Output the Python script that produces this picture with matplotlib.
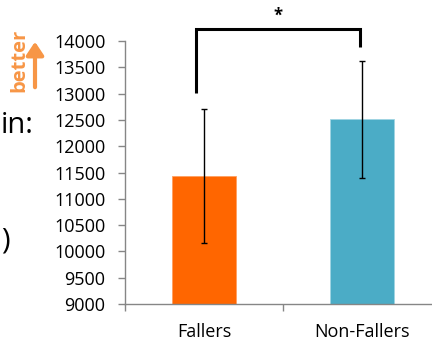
import matplotlib
matplotlib.use("Agg")
import matplotlib.pyplot as plt

categories = ["Fallers", "Non-Fallers"]
means = [11440, 12510]
errors = [1275, 1115]
bar_colors = ["#FF6600", "#4BACC6"]
yticks = [9000, 9500, 10000, 10500, 11000, 11500, 12000, 12500, 13000, 13500, 14000]
sig_label = "*"

plt.rcParams['font.family'] = ['Open Sans', 'DejaVu Sans']

W, H = 432, 341
fig = plt.figure(figsize=(W / 100, H / 100), dpi=100)
ax = fig.add_axes([125 / W, 1 - 304 / H, (441 - 125) / W, (304 - 41) / H])

x = list(range(len(categories)))
ax.bar(x, means, width=0.41, color=bar_colors, edgecolor=["#FFA060", "#A0D4E2"], linewidth=0.6,
       yerr=errors, error_kw=dict(ecolor="black", elinewidth=1, capsize=2.3, capthick=1), zorder=2)

ax.set_xlim(-0.5, 1.5)
ax.set_ylim(min(yticks), max(yticks))
ax.set_yticks(yticks)
ax.set_yticklabels([str(t) for t in yticks], fontsize=13)

gray = "#868686"
for s in ["top", "right"]:
    ax.spines[s].set_visible(False)
for s in ["left", "bottom"]:
    ax.spines[s].set_color(gray)
    ax.spines[s].set_linewidth(1)

ax.tick_params(axis="y", direction="out", length=5, width=1, color=gray, pad=9)
ax.set_xticks([-0.5, 0.5, 1.5])
ax.set_xticklabels([])
ax.set_xticks(x, minor=True)
ax.set_xticklabels(categories, minor=True, fontsize=13)
ax.tick_params(axis="x", which="major", direction="out", length=5, width=1, color=gray)
ax.tick_params(axis="x", which="minor", length=0, pad=14)

# significance bracket
left_bottom = means[0] + errors[0] + 300
right_bottom = means[1] + errors[1] + 270
top = max(yticks) + 230
ax.plot([x[0] - 0.05, x[0] - 0.05, x[1] - 0.01, x[1] - 0.01],
        [left_bottom, top, top, right_bottom], color="black", lw=2.2,
        clip_on=False, solid_joinstyle="miter", solid_capstyle="butt")
ax.text((x[0] + x[1]) / 2 - 0.03, top + 80, sig_label, ha="center", va="bottom",
        fontsize=12, fontweight="bold", clip_on=False)

# "better" arrow and label
orange = "#F79646"
fig.text(19 / W, 1 - 60 / H, "better", rotation=90, color=orange, fontsize=14.5,
         fontweight="bold", ha="center", va="center")
fig.patches.append(matplotlib.patches.FancyArrowPatch(
    (35 / W, 1 - 90 / H), (35 / W, 1 - 39 / H), transform=fig.transFigure,
    arrowstyle="-|>,head_length=6,head_width=4", color=orange, lw=3, mutation_scale=1.3))

# leftover slide text
fig.text(1 / W, 1 - 133 / H, "in:", fontsize=21, ha="left", va="baseline", color="black")
fig.text(1 / W, 1 - 241 / H, ")", fontsize=21, ha="left", va="center", color="black")

fig.savefig("out.png", dpi=100)
